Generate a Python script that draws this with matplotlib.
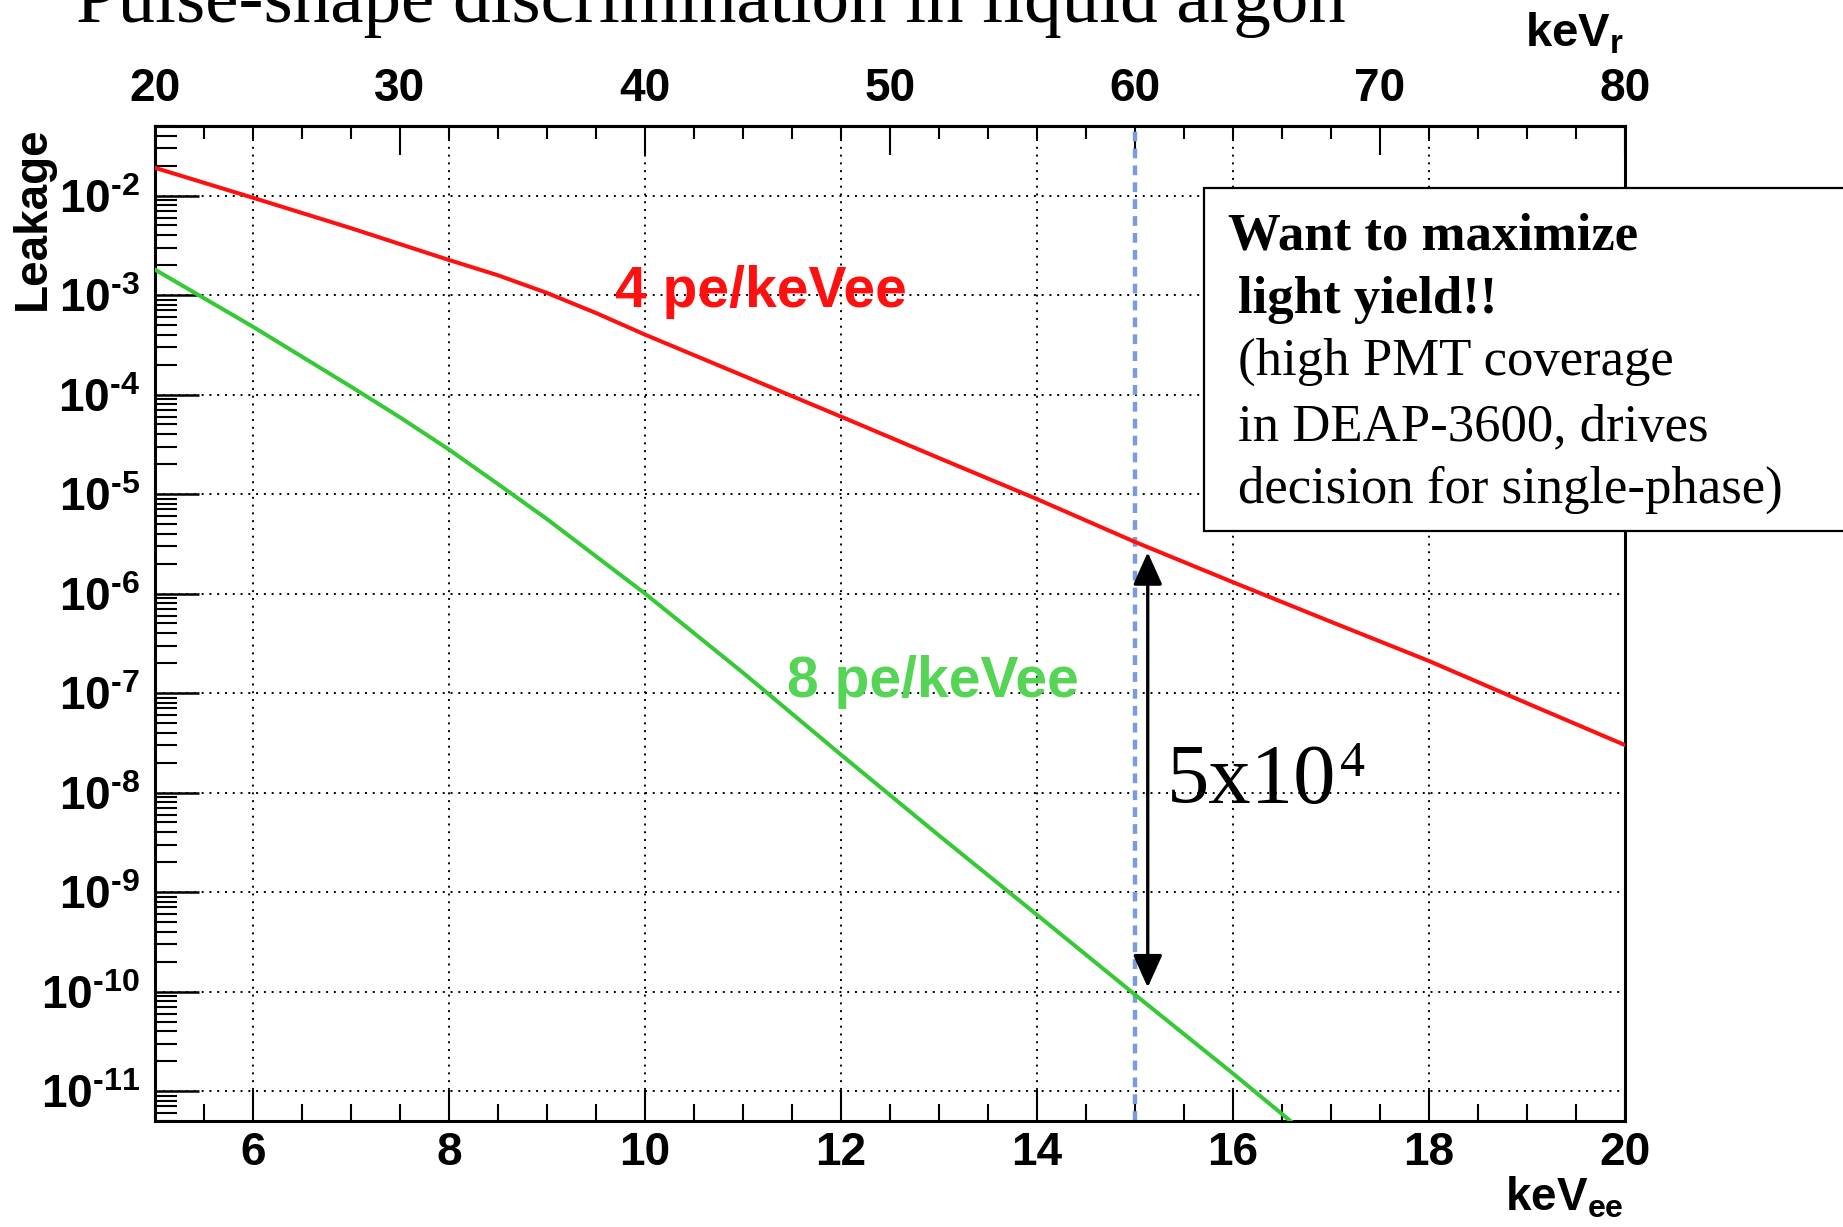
import math
import matplotlib
matplotlib.use("Agg")
import matplotlib.pyplot as plt
from matplotlib.ticker import FixedLocator, MultipleLocator, LogLocator, NullFormatter, FuncFormatter
from matplotlib.patches import Rectangle

plt.rcParams["font.family"] = ["Liberation Sans", "DejaVu Sans"]
plt.rcParams["font.weight"] = "bold"
plt.rcParams["mathtext.fontset"] = "custom"
plt.rcParams["mathtext.rm"] = "Liberation Sans:bold"
plt.rcParams["mathtext.it"] = "Liberation Sans:bold"
plt.rcParams["mathtext.bf"] = "Liberation Sans:bold"

# ---------------- data ----------------
kevee_red = [5, 6, 7, 8, 8.5, 9, 9.5, 10, 11, 12, 13, 14, 15, 16, 17, 18, 19, 20]
leak_red = [1.9e-2, 9.5e-3, 4.7e-3, 2.25e-3, 1.58e-3, 1.05e-3, 6.6e-4, 4.0e-4,
            1.55e-4, 6.0e-5, 2.3e-5, 8.9e-6, 3.3e-6, 1.3e-6, 5.2e-7, 2.1e-7,
            7.9e-8, 3.0e-8]
kevee_green = [5, 6, 7, 7.5, 8, 8.5, 9, 10, 11, 12, 13, 14, 15, 16, 17]
leak_green = [1.8e-3, 4.8e-4, 1.2e-4, 5.9e-5, 2.8e-5, 1.26e-5, 5.6e-6, 1.0e-6,
              1.6e-7, 2.4e-8, 3.7e-9, 5.9e-10, 9.3e-11, 1.5e-11, 2.3e-12]
label_red = "4 pe/keVee"
label_green = "8 pe/keVee"
bottom_ticks = [6, 8, 10, 12, 14, 16, 18, 20]
top_ticks = [20, 30, 40, 50, 60, 70, 80]
ydecades = [1e-2, 1e-3, 1e-4, 1e-5, 1e-6, 1e-7, 1e-8, 1e-9, 1e-10, 1e-11]
cut_energy = 15
arrow_top, arrow_bottom = 2.6e-6, 1.1e-10
title = "Pulse-shape discrimination in liquid argon"
box_lines = [("Want to maximize", "bold"), ("light yield!!", "bold"),
             ("(high PMT coverage", "normal"), ("in DEAP-3600, drives", "normal"),
             ("decision for single-phase)", "normal")]

W, H = 1843, 1227
fig = plt.figure(figsize=(W / 100, H / 100), dpi=100)
L, R, B, T = 155 / W, 1625 / W, 1 - 1121 / H, 1 - 126 / H
ax = fig.add_axes([L, B, R - L, T - B])

ax.set_yscale("log")
ax.set_xlim(5, 20)
ax.set_ylim(5e-12, 5e-2)

ax.plot(kevee_red, leak_red, color="#ff1010", lw=2.9, zorder=3)
ax.plot(kevee_green, leak_green, color="#36c936", lw=2.9, zorder=3)

ax.axvline(cut_energy, color="#7a9cdc", lw=3.2, ls=(0, (2.2, 1.6)), zorder=2)

# grid
ax.grid(True, which="major", axis="both", color="black", lw=1.4, ls=(0, (1, 3)))


def ylab(v, p):
    e = int(round(math.log10(v)))
    s = ("\u2010%d" % abs(e)) if e < 0 else str(e)
    return r"$\mathregular{10^{%s}}$" % s


# ticks
ax.xaxis.set_major_locator(FixedLocator(bottom_ticks))
ax.xaxis.set_minor_locator(MultipleLocator(0.5))
ax.yaxis.set_major_locator(FixedLocator(ydecades))
ax.yaxis.set_minor_locator(LogLocator(base=10, subs=range(2, 10), numticks=30))
ax.yaxis.set_minor_formatter(NullFormatter())
ax.yaxis.set_major_formatter(FuncFormatter(ylab))
ax.tick_params(axis="x", which="major", direction="in", length=22, width=1.5,
               labelsize=33, pad=7, top=False)
ax.tick_params(axis="x", which="minor", direction="in", length=12, width=1.5, top=False)
ax.tick_params(axis="y", which="major", direction="in", length=32, width=1.8,
               labelsize=33, pad=11, right=False)
ax.tick_params(axis="y", which="minor", direction="in", length=16, width=1.5, right=False)
for lab in ax.get_xticklabels() + ax.get_yticklabels():
    lab.set_fontweight("bold")
for s in ax.spines.values():
    s.set_linewidth(2.2)

secax = ax.secondary_xaxis("top", functions=(lambda x: 4 * x, lambda x: x / 4))
secax.xaxis.set_major_locator(FixedLocator(top_ticks))
secax.xaxis.set_minor_locator(MultipleLocator(2))
secax.tick_params(axis="x", which="major", direction="in", length=21, width=1.5,
                  labelsize=33, pad=11)
secax.tick_params(axis="x", which="minor", direction="in", length=9.5, width=1.5)
secax.spines["top"].set_linewidth(2.2)
for lab in secax.get_xticklabels():
    lab.set_fontweight("bold")

# curve labels
ax.text(9.69, 1.07e-3, label_red, color="#ff1010", fontsize=41, fontweight="bold",
        ha="left", va="center", zorder=4)
ax.text(11.45, 1.3e-7, label_green, color="#55d455", fontsize=41, fontweight="bold",
        ha="left", va="center", zorder=4)

# arrow and factor
ax.annotate("", xy=(15.13, arrow_top), xytext=(15.13, arrow_bottom),
            arrowprops=dict(arrowstyle="<|-|>,head_length=2.0,head_width=0.9",
                            mutation_scale=10, lw=2.4, color="black",
                            shrinkA=0, shrinkB=0), zorder=5)
fx, fy = 15.33, 10 ** -8.11
ax.text(fx, fy, "5x10", fontsize=61, family="Liberation Serif",
        fontweight="normal", ha="left", va="baseline", zorder=5)
ax.annotate("4", xy=(fx, fy), xytext=(124, 20), textcoords="offset points",
            fontsize=36, family="Liberation Serif", fontweight="normal",
            ha="left", va="baseline", zorder=5)

# axis titles
fig.text(33 / W, T, "Leakage", rotation=90, fontsize=33, fontweight="bold",
         ha="center", va="top")
fig.text(1624 / W, 1 - 47 / H, r"keV$_{r}$", fontsize=34, fontweight="bold",
         ha="right", va="baseline")
fig.text(1624 / W, 1 - 1211 / H, r"keV$_{ee}$", fontsize=33, fontweight="bold",
         ha="right", va="baseline")

# title (clipped at top, as in the reference)
fig.text(76 / W, 1 - 22 / H, title, fontsize=54, family="Liberation Serif",
         fontweight="normal", ha="left", va="baseline")

# text box
fig.patches.append(Rectangle((1204 / W, 1 - 531 / H), (W + 20 - 1204) / W, (531 - 188) / H,
                             transform=fig.transFigure, facecolor="white",
                             edgecolor="black", lw=1.6, zorder=10))
baselines = [249, 313, 375, 440, 503]
xs = [1228, 1238, 1238, 1238, 1238]
for (txt, wt), yb, xb in zip(box_lines, baselines, xs):
    fig.text(xb / W, 1 - yb / H, txt, fontsize=38, family="Liberation Serif",
             fontweight=wt, ha="left", va="baseline", zorder=11)

fig.savefig("out.png", dpi=100)
